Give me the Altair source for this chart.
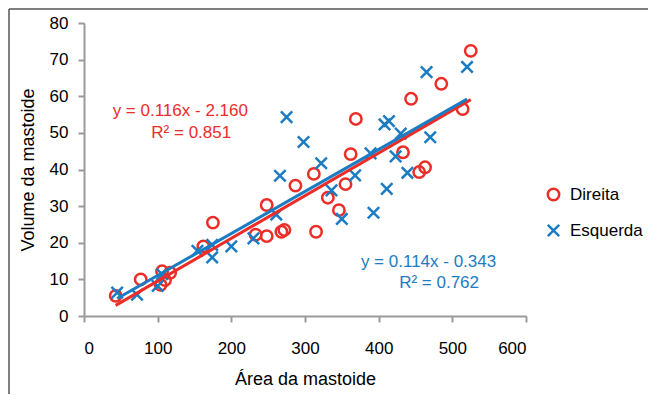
import altair as alt
import pandas as pd

# ---- data ----
series_names = ["Direita", "Esquerda"]
series_colors = ["#ec2d27", "#1c7cc3"]
series_shapes = ["circle", "M-1,-1L1,1M-1,1L1,-1"]

direita_x = [43, 77, 104, 106, 110, 117, 162, 175, 233, 248, 248, 268, 272, 287,
             312, 315, 331, 346, 355, 362, 369, 433, 444, 455, 463, 485, 514, 525]
direita_y = [5.5, 10.0, 8.5, 12.2, 9.8, 11.8, 19.0, 25.5, 22.2, 30.3, 21.8, 23.0, 23.5, 35.6,
             38.8, 23.0, 32.3, 28.9, 36.0, 44.2, 53.8, 44.7, 59.3, 39.3, 40.6, 63.4, 56.5, 72.4]

esquerda_x = [45, 72, 100, 106, 154, 174, 174, 200, 230, 261, 266, 275, 298, 322,
              336, 350, 368, 389, 393, 408, 411, 414, 423, 430, 439, 465, 470, 520]
esquerda_y = [6.4, 5.8, 8.2, 11.4, 17.8, 19.4, 16.0, 19.0, 21.2, 27.7, 38.3, 54.3, 47.5, 41.7,
              34.3, 26.5, 38.4, 44.4, 28.2, 52.3, 34.7, 53.2, 43.6, 49.8, 39.1, 66.6, 48.8, 68.0]

x_ticks = [0, 100, 200, 300, 400, 500, 600]
y_ticks = [0, 10, 20, 30, 40, 50, 60, 70, 80]

eq_text = ["y = 0.116x - 2.160", "R\u00b2 = 0.851", "y = 0.114x - 0.343", "R\u00b2 = 0.762"]
eq_series = ["Direita", "Direita", "Esquerda", "Esquerda"]
eq_x = [130.7, 145.6, 467.7, 482.0]
eq_y = [56.1, 49.9, 14.8, 8.9]

FONT = "Liberation Sans"

df = pd.DataFrame({
    "area": direita_x + esquerda_x,
    "volume": direita_y + esquerda_y,
    "lado": ["Direita"] * len(direita_x) + ["Esquerda"] * len(esquerda_x),
})
eq_df = pd.DataFrame({"texto": eq_text, "lado": eq_series, "area": eq_x, "volume": eq_y})

x_enc = alt.X("area:Q", scale=alt.Scale(domain=[0, 600], nice=False),
              axis=alt.Axis(values=x_ticks, title="Área da mastoide",
                            labelPadding=18, titlePadding=14, labelOverlap=False))
y_enc = alt.Y("volume:Q", scale=alt.Scale(domain=[0, 80], nice=False),
              axis=alt.Axis(values=y_ticks, title="Volume da mastoide", tickCount=9,
                            labelPadding=10, titlePadding=12, labelOverlap=False))

legend = alt.Legend(title=None, orient="none", legendX=461, legendY=163,
                    labelFontSize=17, labelFont=FONT, labelColor="black",
                    symbolSize=130, symbolStrokeWidth=2.5, padding=0,
                    rowPadding=13, labelOffset=8)

points = alt.Chart(df).mark_point(filled=False, strokeWidth=2.5, size=130, opacity=1).encode(
    x=x_enc, y=y_enc,
    color=alt.Color("lado:N", scale=alt.Scale(domain=series_names, range=series_colors), legend=legend),
    shape=alt.Shape("lado:N", scale=alt.Scale(domain=series_names, range=series_shapes), legend=legend),
)

lines = []
for name, col in zip(series_names, series_colors):
    lines.append(
        alt.Chart(df).transform_filter(alt.datum.lado == name)
        .transform_regression("area", "volume")
        .mark_line(color=col, strokeWidth=3)
        .encode(x=x_enc, y=y_enc)
    )

texts = []
for name, col in zip(series_names, series_colors):
    texts.append(
        alt.Chart(eq_df).transform_filter(alt.datum.lado == name)
        .mark_text(color=col, fontSize=17, font=FONT, align="center", baseline="middle")
        .encode(x=x_enc, y=y_enc, text="texto:N")
    )

frame_df = pd.DataFrame({"k": [0]})
frame_top = alt.Chart(frame_df).mark_rule(color="#555555", strokeWidth=1.5).encode(
    x=alt.value(-75), x2=alt.value(570), y=alt.value(-14))
frame_left = alt.Chart(frame_df).mark_rule(color="#555555", strokeWidth=1.5).encode(
    x=alt.value(-75), y=alt.value(-14), y2=alt.value(380))

chart = alt.layer(points, *lines, *texts, frame_top, frame_left).properties(
    width=442, height=293,
    autosize="none",
    padding={"left": 76, "top": 15, "right": 122, "bottom": 78},
).configure_view(stroke=None).configure_axis(
    grid=False, domainColor="#9a9a9a", domainWidth=2, tickColor="#9a9a9a", tickWidth=2,
    tickSize=6, labelFontSize=17, labelFont=FONT, labelColor="black", labelOverlap=False,
    titleFontSize=18, titleFont=FONT, titleFontWeight="normal", titleColor="black",
).configure_text(font=FONT)

chart.save("out.html", embed_options={"renderer": "svg", "actions": False})
